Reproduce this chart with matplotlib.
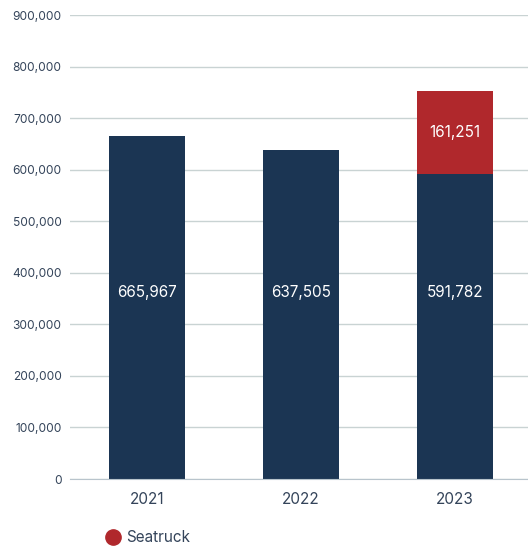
import matplotlib.pyplot as plt
from matplotlib.lines import Line2D

plt.rcParams['font.family'] = ['Inter', 'DejaVu Sans']

# chart data
years = ['2021', '2022', '2023']
base_values = [665967, 637505, 591782]
seatruck_values = [0, 0, 161251]

navy = '#1b3553'
red = '#b0282c'
text_color = '#34445a'

fig = plt.figure(figsize=(5.28, 5.48), dpi=100)
ax = fig.add_axes([0.1326, 0.1259, 0.875, 0.8467])

positions = list(range(len(years)))
bar_width = 0.49

ax.bar(positions, base_values, bar_width, color=navy, zorder=3)
ax.bar(positions, seatruck_values, bar_width, bottom=base_values, color=red, zorder=3)

# value labels inside the bars
for p, v in zip(positions, base_values):
    ax.text(p, 362000, f'{v:,}', ha='center', va='center', color='white', fontsize=11, zorder=4)
for p, b, v in zip(positions, base_values, seatruck_values):
    if v > 0:
        ax.text(p, b + v / 2, f'{v:,}', ha='center', va='center', color='white', fontsize=11, zorder=4)

ax.set_xlim(-0.5, 2.5)
ax.set_ylim(0, 900000)
ax.set_yticks(range(0, 900001, 100000))
ax.set_yticklabels([f'{t:,}' for t in range(0, 900001, 100000)])
ax.set_xticks(positions)
ax.set_xticklabels(years)

ax.grid(axis='y', color='#c9d3d3', linewidth=1, zorder=0)
for side in ['top', 'right', 'left']:
    ax.spines[side].set_visible(False)
ax.spines['bottom'].set_color('#b8c4cc')
ax.spines['bottom'].set_zorder(5)

ax.tick_params(axis='y', length=0, pad=6, labelsize=8.6, labelcolor=text_color)
ax.tick_params(axis='x', length=0, pad=9, labelsize=11, labelcolor=text_color)

handle = Line2D([], [], marker='o', color='none', markerfacecolor=red, markeredgecolor=red, markersize=11)
fig.legend([handle], ['Seatruck'], loc='lower left', bbox_to_anchor=(0.17, -0.02),
           frameon=False, fontsize=11, labelcolor=text_color, handletextpad=0.25, handlelength=1.2)

fig.savefig('out.png', dpi=100)
